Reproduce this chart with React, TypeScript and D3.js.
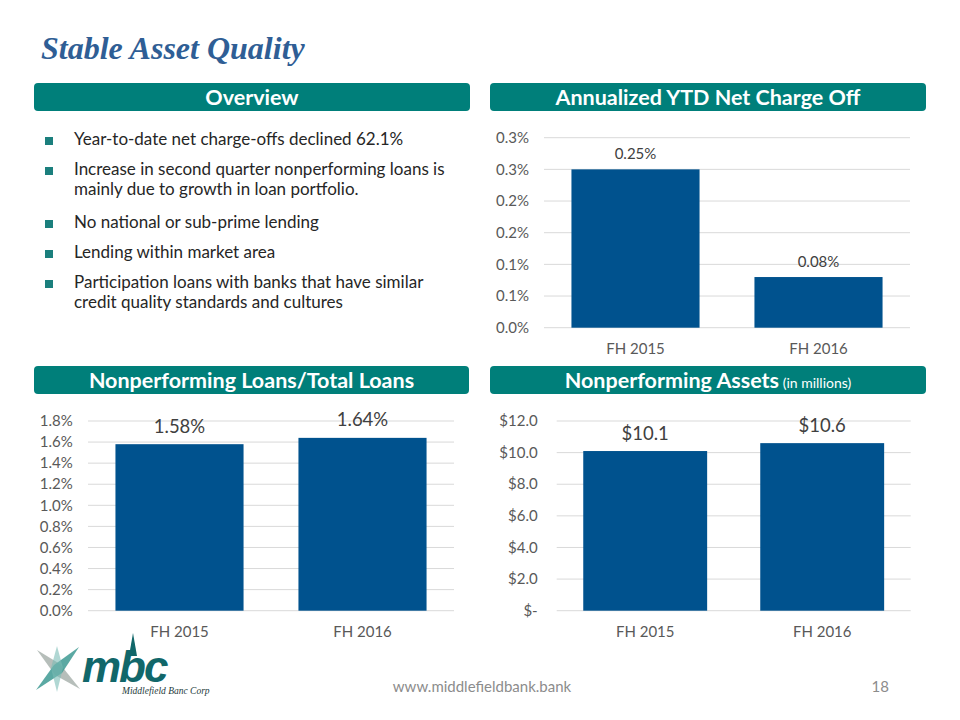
import * as d3 from 'd3';

// ---- data ----
const periods = ['FH 2015', 'FH 2016'];

const chargeOffValues = [0.25, 0.08];
const chargeOffLabels = ['0.25%', '0.08%'];
const chargeOffTicks = [0, 0.05, 0.1, 0.15, 0.2, 0.25, 0.3];
const chargeOffTickLabels = ['0.0%', '0.1%', '0.1%', '0.2%', '0.2%', '0.3%', '0.3%'];

const nplValues = [1.58, 1.64];
const nplLabels = ['1.58%', '1.64%'];
const nplTicks = [0, 0.2, 0.4, 0.6, 0.8, 1.0, 1.2, 1.4, 1.6, 1.8];
const nplTickLabels = ['0.0%', '0.2%', '0.4%', '0.6%', '0.8%', '1.0%', '1.2%', '1.4%', '1.6%', '1.8%'];

const npaValues = [10.1, 10.6];
const npaLabels = ['$10.1', '$10.6'];
const npaTicks = [0, 2, 4, 6, 8, 10, 12];
const npaTickLabels = ['$-', '$2.0', '$4.0', '$6.0', '$8.0', '$10.0', '$12.0'];

const bullets = [
  ['Year-to-date net charge-offs declined 62.1%'],
  ['Increase in second quarter nonperforming loans is', 'mainly due to growth in loan portfolio.'],
  ['No national or sub-prime lending'],
  ['Lending within market area'],
  ['Participation loans with banks that have similar', 'credit quality standards and cultures'],
];

const TEAL = '#007F7A';
const BAR = '#00528E';
const FONT = 'Lato, "Open Sans", sans-serif';

interface PanelProps {
  values: number[];
  labels: string[];
  ticks: number[];
  tickLabels: string[];
  x0: number;
  x1: number;
  yTop: number;
  yBottom: number;
  max: number;
  valueSize: number;
  labelGap: number;
  tickX: number;
}

function BarPanel(p: PanelProps) {
  const x = d3.scaleBand<string>()
    .domain(periods)
    .range([p.x0, p.x1])
    .paddingInner(0.3)
    .paddingOuter(0.15);
  const y = d3.scaleLinear().domain([0, p.max]).range([p.yBottom, p.yTop]);

  return (
    <g fontFamily={FONT}>
      {p.ticks.map((t, i) => (
        <g key={i}>
          <line x1={p.x0} x2={p.x1} y1={y(t)} y2={y(t)} stroke="#D9D9D9" strokeWidth={1} />
          <text x={p.tickX} y={y(t)} dy="0.35em" textAnchor="end" fontSize={15} fill="#595959">
            {p.tickLabels[i]}
          </text>
        </g>
      ))}
      {periods.map((c, i) => (
        <g key={c}>
          <rect
            x={x(c)}
            y={y(p.values[i])}
            width={x.bandwidth()}
            height={y(0) - y(p.values[i])}
            fill={BAR}
          />
          <text
            x={(x(c) || 0) + x.bandwidth() / 2}
            y={y(p.values[i]) - p.labelGap}
            textAnchor="middle"
            fontSize={p.valueSize}
            fill="#404040"
          >
            {p.labels[i]}
          </text>
          <text
            x={(x(c) || 0) + x.bandwidth() / 2}
            y={p.yBottom + 26}
            textAnchor="middle"
            fontSize={15}
            fill="#595959"
          >
            {c}
          </text>
        </g>
      ))}
    </g>
  );
}

function Header({ x, y, w, title, sub }: { x: number; y: number; w: number; title: string; sub?: string }) {
  return (
    <g>
      <rect x={x} y={y} width={w} height={28} rx={4} fill={TEAL} />
      <text
        x={x + w / 2}
        y={y + 22}
        textAnchor="middle"
        fontFamily={FONT}
        fontWeight="bold"
        fontSize={21.5}
        fill="#fff"
      >
        {title}
        {sub && (
          <tspan fontWeight="normal" fontSize={14}>
            {' ' + sub}
          </tspan>
        )}
      </text>
    </g>
  );
}

function Logo() {
  return (
    <g>
      <polygon points="37,650 60,664 80,689 55,675" fill="#A9B3AE" opacity={0.85} />
      <polygon points="36,690 54,665 79,647 62,673" fill="#3E9A93" opacity={0.85} />
      <polygon points="57,646 63,668 57,692 51,668" fill="#7CBDB5" opacity={0.6} />
      <polygon points="129,656 133,633 137,656" fill="#11676A" />
      <text
        x={82}
        y={682}
        fontFamily='"Liberation Sans", Arial, sans-serif'
        fontWeight="bold"
        fontStyle="italic"
        fontSize={44}
        letterSpacing={-2}
        fill="#11676A"
      >
        mbc
      </text>
      <text
        x={122}
        y={694}
        fontFamily='"Liberation Serif", serif'
        fontStyle="italic"
        fontSize={9.5}
        fill="#1E3B3B"
      >
        Middlefield Banc Corp
      </text>
    </g>
  );
}

export default function App() {
  return (
    <svg
      width={960}
      height={720}
      style={{ position: 'absolute', left: 0, top: 0, background: '#fff' }}
    >
      <rect width={960} height={720} fill="#fff" />
      <text
        x={41}
        y={59}
        fontFamily='"Liberation Serif", "Times New Roman", serif'
        fontWeight="bold"
        fontStyle="italic"
        fontSize={32}
        fill="#2F5E95"
      >
        Stable Asset Quality
      </text>

      <Header x={34} y={83} w={436} title="Overview" />
      <Header x={490} y={83} w={436} title="Annualized YTD Net Charge Off" />
      <Header x={34} y={366} w={435} title="Nonperforming Loans/Total Loans" />
      <Header x={490} y={366} w={436} title="Nonperforming Assets" sub="(in millions)" />

      {/* overview bullets */}
      <g fontFamily={FONT} fontSize={17} fill="#262626">
        {bullets.map((lines, i) => {
          const base = [145, 175, 228, 258, 288][i];
          return (
            <g key={i}>
              <rect x={45} y={base - 8} width={8} height={8} fill="#1B7F7D" />
              {lines.map((l, j) => (
                <text key={j} x={74} y={base + j * 20}>
                  {l}
                </text>
              ))}
            </g>
          );
        })}
      </g>

      <BarPanel
        values={chargeOffValues}
        labels={chargeOffLabels}
        ticks={chargeOffTicks}
        tickLabels={chargeOffTickLabels}
        x0={544}
        x1={910}
        yTop={137.7}
        yBottom={327.7}
        max={0.3}
        valueSize={15}
        labelGap={10.5}
        tickX={529}
      />
      <BarPanel
        values={nplValues}
        labels={nplLabels}
        ticks={nplTicks}
        tickLabels={nplTickLabels}
        x0={88}
        x1={454}
        yTop={421}
        yBottom={610.7}
        max={1.8}
        valueSize={18.5}
        labelGap={11.5}
        tickX={72.7}
      />
      <BarPanel
        values={npaValues}
        labels={npaLabels}
        ticks={npaTicks}
        tickLabels={npaTickLabels}
        x0={556.7}
        x1={910.7}
        yTop={421}
        yBottom={610.7}
        max={12}
        valueSize={18.5}
        labelGap={11}
        tickX={537.7}
      />

      <Logo />
      <text x={482} y={692} textAnchor="middle" fontFamily={FONT} fontSize={15} fill="#8C8C8C">
        www.middlefieldbank.bank
      </text>
      <text x={889} y={692} textAnchor="end" fontFamily={FONT} fontSize={15} fill="#8C8C8C">
        18
      </text>
    </svg>
  );
}
